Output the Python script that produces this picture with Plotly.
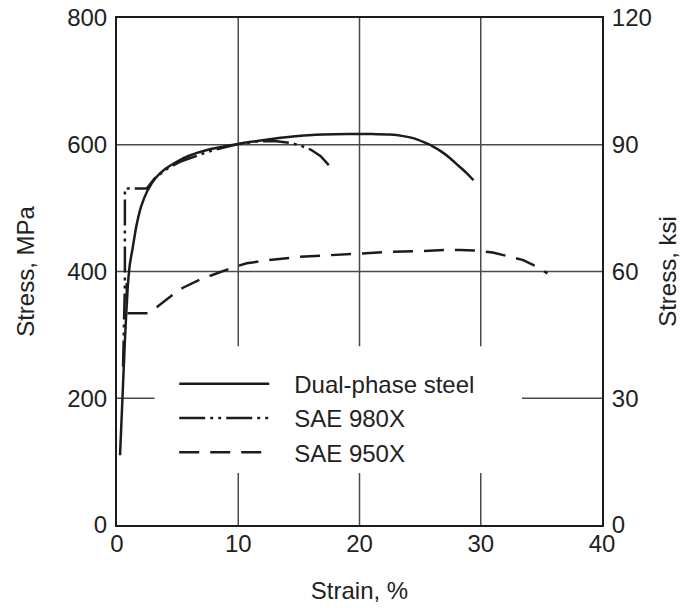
import plotly.graph_objects as go

# ---- data ----
dp_strain = [0.25, 0.45, 0.65, 0.85, 1.05, 1.3, 1.6, 2.0, 2.5, 3.2, 4.0, 5.0, 6.0, 7.5, 9.0,
             10.5, 12.0, 13.5, 15.0, 17.0, 19.0, 21.0, 22.5, 23.5, 24.5, 25.3, 26.0, 26.7,
             27.4, 28.1, 28.8, 29.4]
dp_stress = [110, 200, 290, 365, 410, 438, 472, 503, 527, 548, 562, 574, 583, 592, 598,
             603, 607, 611, 614, 616, 617, 617, 616, 614, 610, 604, 598, 590, 580, 568, 556, 544]

x980_strain = [0.5, 0.65, 0.65, 2.45, 3.1, 4.2, 5.3, 6.6, 8.0, 10.0, 11.5, 13.0, 14.3, 15.1,
               16.0, 16.8, 17.7]
x980_stress = [250, 380, 531, 531, 547, 563, 574, 583, 592, 601, 605, 606, 603, 599, 592, 582, 563]

x950_strain = [0.8, 0.82, 2.55, 3.3, 4.3, 5.4, 6.8, 8.2, 9.5, 10.7, 12.5, 15.0, 17.5, 20.0,
               22.5, 25.0, 27.0, 28.3, 29.5, 31.0, 32.2, 33.5, 34.6, 35.5]
x950_stress = [382, 334, 334, 344, 359, 374, 387, 397, 406, 413, 418, 423, 426, 429, 431, 432,
               434, 434, 433, 430, 424, 418, 408, 397]

series_names = ["Dual-phase steel", "SAE 980X", "SAE 950X"]

x_ticks = [0, 10, 20, 30, 40]
y_ticks_mpa = [0, 200, 400, 600, 800]
y_ticks_ksi = [0, 30, 60, 90, 120]

grid_x = [10, 20, 30]
grid_y_full = [400, 600]
grid_y_partial = [200]

# ---- styling ----
INK = "#1c1c1c"
GRID = "#4a4a4a"
TEXT = "#222222"
FONT = "Liberation Sans, Arial, sans-serif"
PAD = "\u00a0\u00a0\u00a0"  # gap between legend line sample and label

fig = go.Figure()
fig.add_trace(go.Scatter(x=dp_strain, y=dp_stress, mode="lines", name=PAD + series_names[0],
                         line=dict(color=INK, width=2.5, shape="spline", smoothing=0.5)))
fig.add_trace(go.Scatter(x=x980_strain, y=x980_stress, mode="lines", name=PAD + series_names[1],
                         line=dict(color=INK, width=2.5, dash="26px,5px,3px,5px,3px,5px")))
fig.add_trace(go.Scatter(x=x950_strain, y=x950_stress, mode="lines", name=PAD + series_names[2],
                         line=dict(color=INK, width=2.5, dash="20px,11px")))
# invisible trace so the right-hand (ksi) axis is drawn
fig.add_trace(go.Scatter(x=[0], y=[0], yaxis="y2", mode="markers", marker=dict(opacity=0),
                         showlegend=False, hoverinfo="skip"))

shapes = []
for gx in grid_x:
    shapes.append(dict(type="line", xref="x", yref="y", x0=gx, x1=gx, y0=282, y1=800,
                       line=dict(color=GRID, width=1.5), layer="below"))
    shapes.append(dict(type="line", xref="x", yref="y", x0=gx, x1=gx, y0=0, y1=82,
                       line=dict(color=GRID, width=1.5), layer="below"))
for gy in grid_y_full:
    shapes.append(dict(type="line", xref="x", yref="y", x0=0, x1=40, y0=gy, y1=gy,
                       line=dict(color=GRID, width=1.5), layer="below"))
for gy in grid_y_partial:
    shapes.append(dict(type="line", xref="x", yref="y", x0=0, x1=3.1, y0=gy, y1=gy,
                       line=dict(color=GRID, width=1.5), layer="below"))
    shapes.append(dict(type="line", xref="x", yref="y", x0=33.4, x1=40, y0=gy, y1=gy,
                       line=dict(color=GRID, width=1.5), layer="below"))

fig.update_layout(
    width=691, height=608,
    margin=dict(l=117, r=89, t=18, b=83),
    paper_bgcolor="white", plot_bgcolor="white",
    font=dict(family=FONT, color=TEXT, size=22),
    shapes=shapes,
    showlegend=True,
    legend=dict(x=0.118, y=0.322, xanchor="left", yanchor="top",
                bgcolor="rgba(0,0,0,0)", font=dict(size=24, family=FONT, color=TEXT),
                itemwidth=90, tracegroupgap=0),
    xaxis=dict(range=[0, 40], tickvals=x_ticks, showgrid=False, zeroline=False,
               showline=True, linecolor=INK, linewidth=2, mirror=True,
               ticks="outside", ticklen=1, tickcolor="rgba(0,0,0,0)",
               ticklabelstandoff=-5,
               tickfont=dict(size=24), automargin=False,
               title=dict(text="Strain, %", font=dict(size=24), standoff=26)),
    yaxis=dict(range=[0, 800], tickvals=y_ticks_mpa, showgrid=False, zeroline=False,
               showline=True, linecolor=INK, linewidth=2, mirror=True,
               ticks="outside", ticklen=3, tickcolor="rgba(0,0,0,0)",
               tickfont=dict(size=24), automargin=False,
               title=dict(text="Stress, MPa", font=dict(size=24), standoff=26)),
    yaxis2=dict(range=[0, 120], tickvals=y_ticks_ksi, overlaying="y", side="right",
                showgrid=False, zeroline=False, showline=False,
                ticks="outside", ticklen=4, tickcolor="rgba(0,0,0,0)",
                tickfont=dict(size=24), automargin=False,
                title=dict(text="Stress, ksi", font=dict(size=24), standoff=8)),
)

fig.write_html("out.html")
